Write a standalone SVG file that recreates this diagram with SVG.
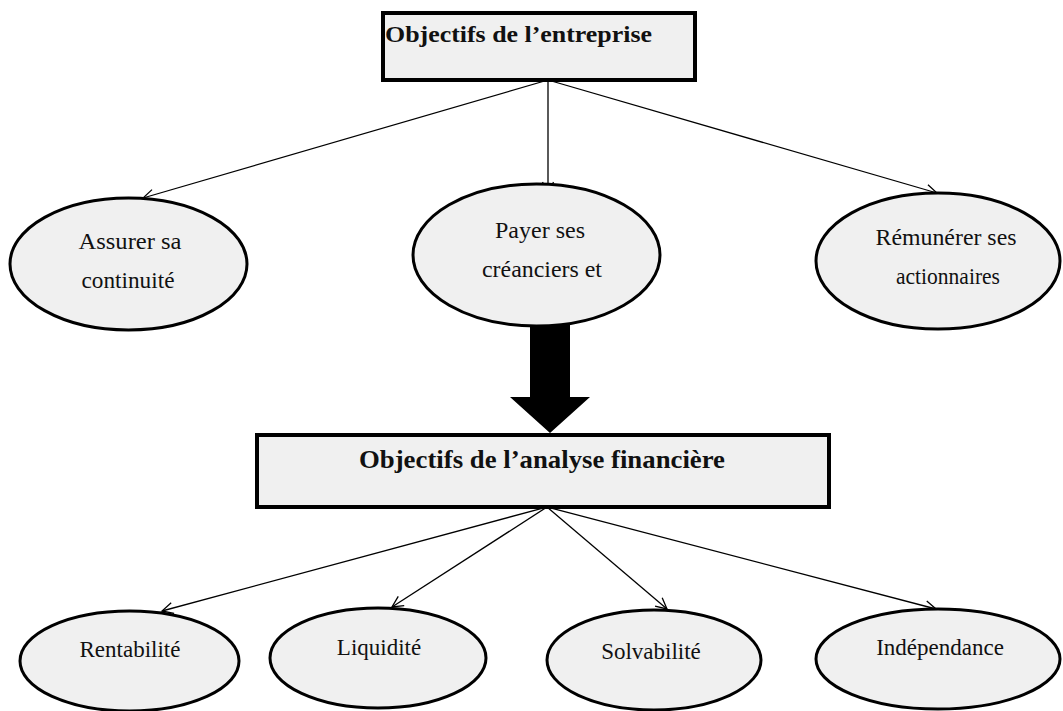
<svg xmlns="http://www.w3.org/2000/svg" width="1063" height="711" viewBox="0 0 1063 711">
<style>
.box{fill:#f0f0f0;stroke:#000;stroke-width:4}
.ell{fill:#f0f0f0;stroke:#000;stroke-width:3}
.bt{font-family:"Liberation Serif","Times New Roman",serif;font-weight:bold;fill:#111}
.t{font-family:"Liberation Serif","Times New Roman",serif;font-size:23px;fill:#111;text-anchor:middle}
.c{stroke:#000;stroke-width:1.3;fill:none}
</style>
<defs>
<marker id="ah" markerUnits="userSpaceOnUse" viewBox="-13 -8 15 16" refX="0" refY="0" markerWidth="15" markerHeight="16" orient="auto">
<path d="M-11,-5.5 L0,0 L-11,5.5" fill="none" stroke="#000" stroke-width="1.3"/>
</marker>
</defs>
<rect width="1063" height="711" fill="#fff"/>
<g id="connectors">
<line class="c" x1="548" y1="80" x2="143" y2="198" marker-end="url(#ah)"/>
<line class="c" x1="548" y1="80" x2="548" y2="193" marker-end="url(#ah)"/>
<line class="c" x1="548" y1="80" x2="937" y2="193" marker-end="url(#ah)"/>
<line class="c" x1="547" y1="507" x2="162" y2="611" marker-end="url(#ah)"/>
<line class="c" x1="547" y1="507" x2="392" y2="607" marker-end="url(#ah)"/>
<line class="c" x1="547" y1="507" x2="667" y2="609" marker-end="url(#ah)"/>
<line class="c" x1="547" y1="507" x2="936" y2="609" marker-end="url(#ah)"/>
<path id="big-arrow" d="M530,325 L570,325 L570,397 L590,397 L550,433 L510,397 L530,397 Z" fill="#000"/>
</g>
<g id="n-entreprise">
<rect class="box" x="383" y="13" width="312" height="67"/>
<text class="bt" x="385" y="42" font-size="23" textLength="267" lengthAdjust="spacingAndGlyphs">Objectifs de l’entreprise</text>
</g>
<g id="n-continuite">
<ellipse class="ell" cx="128.5" cy="264" rx="118.5" ry="66"/>
<text class="t" x="130" y="249" textLength="103" lengthAdjust="spacingAndGlyphs">Assurer sa</text>
<text class="t" x="128" y="288" textLength="93" lengthAdjust="spacingAndGlyphs">continuité</text>
</g>
<g id="n-creanciers">
<ellipse class="ell" cx="536.5" cy="255" rx="123.5" ry="71"/>
<text class="t" x="540" y="238" textLength="90" lengthAdjust="spacingAndGlyphs">Payer ses</text>
<text class="t" x="542" y="277" textLength="120" lengthAdjust="spacingAndGlyphs">créanciers et</text>
</g>
<g id="n-actionnaires">
<ellipse class="ell" cx="938" cy="261" rx="122" ry="68"/>
<text class="t" x="946" y="245" textLength="141" lengthAdjust="spacingAndGlyphs">Rémunérer ses</text>
<text class="t" x="948" y="284" textLength="104" lengthAdjust="spacingAndGlyphs">actionnaires</text>
</g>
<g id="n-analyse">
<rect class="box" x="257" y="435" width="572" height="72"/>
<text class="bt" x="359" y="468" font-size="25" textLength="366" lengthAdjust="spacingAndGlyphs">Objectifs de l’analyse financière</text>
</g>
<g id="n-rentabilite">
<ellipse class="ell" cx="129.5" cy="661" rx="109.5" ry="50"/>
<text class="t" x="130" y="657">Rentabilité</text>
</g>
<g id="n-liquidite">
<ellipse class="ell" cx="378" cy="658" rx="108" ry="50"/>
<text class="t" x="379" y="655">Liquidité</text>
</g>
<g id="n-solvabilite">
<ellipse class="ell" cx="654" cy="660" rx="107" ry="50"/>
<text class="t" x="651" y="659">Solvabilité</text>
</g>
<g id="n-independance">
<ellipse class="ell" cx="938" cy="659" rx="122" ry="50"/>
<text class="t" x="940" y="655">Indépendance</text>
</g>
</svg>
